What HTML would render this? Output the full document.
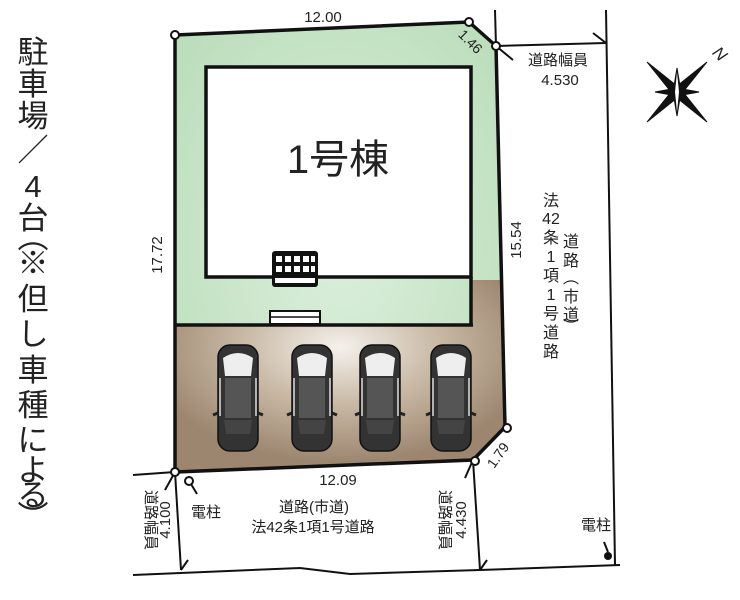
<!DOCTYPE html>
<html><head><meta charset="utf-8"><style>
html,body{margin:0;padding:0;background:#fff;}
svg{display:block;}
text{font-family:"Liberation Sans","Noto Sans CJK JP",sans-serif;fill:#222;}
</style></head><body>
<svg width="740" height="600" viewBox="0 0 740 600" xmlns="http://www.w3.org/2000/svg">
<defs>
<radialGradient id="br" cx="0.5" cy="0.35" r="0.6">
<stop offset="0" stop-color="#f4f1ec"/><stop offset="0.5" stop-color="#c8b8a4"/><stop offset="1" stop-color="#9c8670"/>
</radialGradient>
<radialGradient id="gr" cx="0.5" cy="0.5" r="0.7">
<stop offset="0" stop-color="#dcefdc"/><stop offset="1" stop-color="#b9dcb9"/>
</radialGradient>
<g id="car">
<rect x="-20" y="-53" width="40" height="106" rx="12" fill="#333" stroke="#111" stroke-width="1.5"/>
<path d="M-15,-40 Q0,-50 15,-40 L13,-22 L-13,-22 Z" fill="#eee"/>
<rect x="-13" y="-20" width="26" height="40" fill="#555"/>
<path d="M-14,22 L14,22 L12,36 L-12,36 Z" fill="#444"/>
<line x1="-18" y1="-20" x2="-18" y2="18" stroke="#ddd" stroke-width="1.5"/>
<line x1="18" y1="-20" x2="18" y2="18" stroke="#ddd" stroke-width="1.5"/>
<path d="M-20,15 L-25,17 M20,15 L25,17" stroke="#222" stroke-width="3"/>
</g>
</defs>

<polygon points="175,35 469,22 496,46 505,427 473,460 175,472" fill="url(#gr)"/>
<polygon points="175,325 471,325 471,280 502,280 505,427 473,460 175,472" fill="url(#br)"/>
<polygon points="175,35 469,22 496,46 505,427 473,460 175,472" fill="none" stroke="#111" stroke-width="3.5"/>
<rect x="206" y="67" width="265" height="210" fill="#fff" stroke="#111" stroke-width="3.5"/>
<line x1="471" y1="277" x2="471" y2="325" stroke="#111" stroke-width="3.5"/>
<line x1="175" y1="325" x2="473" y2="325" stroke="#111" stroke-width="3.5"/>
<text x="338" y="173" font-size="40" text-anchor="middle">1号棟</text>
<rect x="272" y="251" width="46" height="36" rx="3" fill="#111"/>
<g fill="#fff">
<rect x="276" y="256" width="6" height="6"/><rect x="285" y="256" width="6" height="6"/><rect x="294" y="256" width="6" height="6"/><rect x="303" y="256" width="6" height="6"/><rect x="311" y="256" width="4" height="6"/>
<rect x="276" y="266" width="6" height="6"/><rect x="285" y="266" width="6" height="6"/><rect x="294" y="266" width="6" height="6"/><rect x="303" y="266" width="6" height="6"/><rect x="311" y="266" width="4" height="6"/>
<rect x="275" y="278" width="40" height="5"/>
</g>
<rect x="270" y="311" width="50" height="13" fill="#fff" stroke="#111" stroke-width="2"/>
<line x1="270" y1="317" x2="320" y2="317" stroke="#111" stroke-width="1.5"/>
<use href="#car" x="238" y="398"/>
<use href="#car" x="312" y="398"/>
<use href="#car" x="380" y="398"/>
<use href="#car" x="451" y="398"/>

<g stroke="#111" stroke-width="2" fill="none">
<line x1="495" y1="10" x2="496" y2="46"/>
<line x1="606" y1="10" x2="615" y2="565"/>
<line x1="496" y1="46" x2="606" y2="43"/>
<line x1="593" y1="33" x2="606" y2="43"/>
<line x1="496" y1="46" x2="513" y2="60"/>
<polyline points="133,575 300,568 350,574 480,570 620,565"/>
<line x1="133" y1="475" x2="175" y2="472"/>
<line x1="175" y1="472" x2="181" y2="570"/>
<line x1="175" y1="472" x2="165" y2="490"/>
<line x1="181" y1="570" x2="188" y2="560"/>
<line x1="473" y1="460" x2="480" y2="570"/>
<line x1="473" y1="460" x2="465" y2="478"/>
<line x1="480" y1="570" x2="487" y2="560"/>
</g>
<g fill="#fff" stroke="#111" stroke-width="2">
<circle cx="175" cy="35" r="4"/><circle cx="469" cy="22" r="4"/><circle cx="496" cy="46" r="4"/>
<circle cx="507" cy="428" r="4"/><circle cx="475" cy="461" r="4"/><circle cx="175" cy="472" r="4"/>
</g>
<circle cx="189" cy="481" r="4" fill="#fff" stroke="#111" stroke-width="2"/>
<line x1="191" y1="484" x2="197" y2="494" stroke="#111" stroke-width="2"/>
<circle cx="608" cy="556" r="4" fill="#111"/>
<line x1="608" y1="552" x2="604" y2="542" stroke="#111" stroke-width="2"/>

<g fill="#111">
<text x="323" y="22" font-size="15" text-anchor="middle">12.00</text>
<text x="467" y="45" font-size="14" text-anchor="middle" transform="rotate(45 467 45)">1.46</text>
<text x="558" y="65" font-size="15" text-anchor="middle">道路幅員</text>
<text x="560" y="85" font-size="15" text-anchor="middle">4.530</text>
<text x="162" y="255" font-size="15" text-anchor="middle" transform="rotate(-90 162 255)">17.72</text>
<text x="521" y="240" font-size="15" text-anchor="middle" transform="rotate(-90 521 240)">15.54</text>
<g font-size="16" text-anchor="middle">
<text x="551" y="206">法</text><text x="551" y="224">42</text><text x="551" y="243">条</text><text x="551" y="262">1</text><text x="551" y="281">項</text><text x="551" y="300">1</text><text x="551" y="319">号</text><text x="551" y="338">道</text><text x="551" y="357">路</text>
<text x="571" y="247">道</text><text x="571" y="266">路</text><text x="571" y="283">︵</text><text x="571" y="302">市</text><text x="571" y="320">道</text><text x="571" y="332">︶</text>
</g>
<text x="338" y="485" font-size="15" text-anchor="middle">12.09</text>
<text x="502" y="458" font-size="14" text-anchor="middle" transform="rotate(-55 502 458)">1.79</text>
<text x="314" y="512" font-size="15" text-anchor="middle">道路(市道)</text>
<text x="313" y="532" font-size="15" text-anchor="middle">法42条1項1号道路</text>
<text x="206" y="517" font-size="15" text-anchor="middle">電柱</text>
<text x="596" y="530" font-size="15" text-anchor="middle">電柱</text>
<text x="146" y="520" font-size="15" text-anchor="middle" transform="rotate(90 146 520)">道路幅員</text>
<text x="170" y="520" font-size="15" text-anchor="middle" transform="rotate(-90 170 520)">4.100</text>
<text x="440" y="520" font-size="15" text-anchor="middle" transform="rotate(90 440 520)">道路幅員</text>
<text x="466" y="520" font-size="15" text-anchor="middle" transform="rotate(-90 466 520)">4.430</text>
</g>

<g font-size="31" text-anchor="middle" fill="#111">
<text x="33" y="63">駐</text><text x="33" y="95">車</text><text x="33" y="127">場</text><text x="33" y="161">／</text>
<text x="33" y="197">4</text><text x="33" y="229">台</text><text x="33" y="248">︵</text><text x="33" y="274">※</text>
<text x="33" y="310">但</text><text x="33" y="345">し</text><text x="33" y="381">車</text><text x="33" y="416">種</text>
<text x="33" y="451">に</text><text x="33" y="481">よ</text><text x="33" y="506">る</text><text x="33" y="528">︶</text>
</g>

<g transform="translate(677,92)" fill="#111" stroke="#111" stroke-width="1">
<polygon points="0,-6 30,-30 6,0 30,30 0,6 -30,30 -6,0 -30,-30"/>
<polygon points="0,-24 4,0 0,24 -4,0" />
<polygon points="-22,0 0,4 22,0 0,-4"/>
<polygon points="0,-20 2,0 0,20 -2,0" fill="#fff" stroke="none"/>
</g>
<text x="715" y="55" font-size="17" font-style="italic" transform="rotate(45 715 50)" font-family="Liberation Serif, serif">N</text>
</svg>
</body></html>
